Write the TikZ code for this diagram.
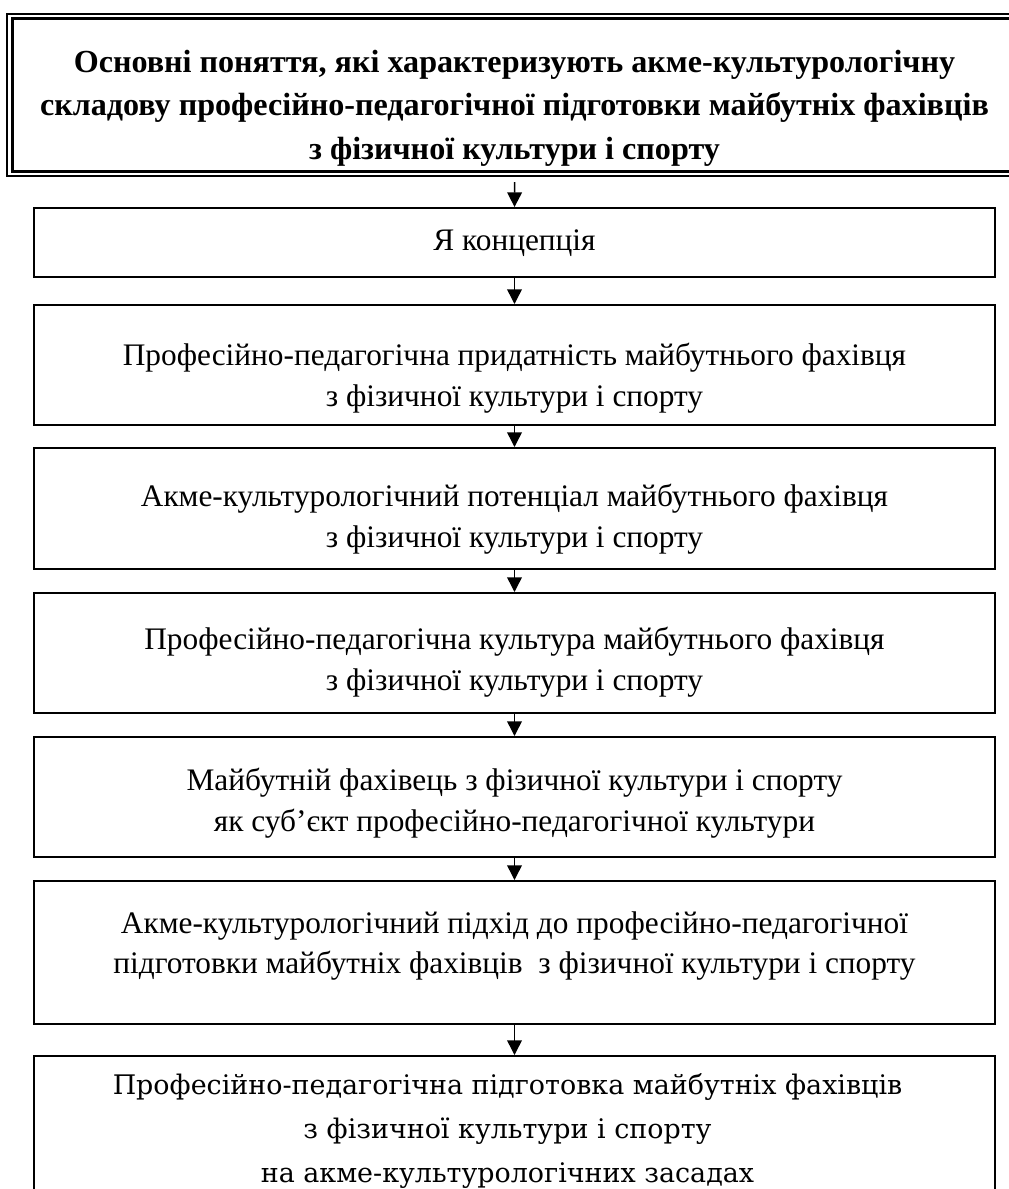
\documentclass[tikz,border=0pt]{standalone}
\usepackage{fontspec}
\setmainfont{Liberation Serif}
\newfontfamily\lastfont{DejaVu Serif}
\usetikzlibrary{arrows.meta}
\begin{document}
\begin{tikzpicture}[x=0.75pt,y=-0.75pt,
  box/.style={draw, line width=1.5pt, rectangle, inner sep=0pt,
    minimum width=720.75pt, anchor=center},
  txt/.style={align=center, inner sep=0pt, font=\fontsize{23.5pt}{30.7pt}\selectfont},
  conn/.style={line width=1.1pt, -{Triangle[width=11pt,length=11pt]}}]
\useasboundingbox (0,0) rectangle (1009,1189);
\clip (0,0) rectangle (1009,1189);
% top double frame
\node[draw, line width=1.3pt, rectangle, inner sep=0pt, minimum width=761.25pt,
  minimum height=121.5pt] (top) at (514.75,95) {};
\draw[line width=2.4pt] ([shift={(6,5.5)}]top.north west) rectangle ([shift={(-6,-5.5)}]top.south east);
\node[align=center, inner sep=0pt, font=\fontsize{24.1pt}{32.6pt}\selectfont\bfseries] (ttop) at (514.5,108)
  {Основні поняття, які характеризують акме-культурологічну\\
   складову професійно-педагогічної підготовки майбутніх фахівців\\
   з фізичної культури і спорту};
% boxes
\node[box, minimum height=51.75pt] (b1) at (514.5,242.5) {};
\node[box, minimum height=90pt] (b2) at (514.5,365) {};
\node[box, minimum height=90.75pt] (b3) at (514.5,508.5) {};
\node[box, minimum height=90pt] (b4) at (514.5,653) {};
\node[box, minimum height=90pt] (b5) at (514.5,797) {};
\node[box, minimum height=107.25pt] (b6) at (514.5,952.5) {};
\node[box, minimum height=130.5pt] (b7) at (514.5,1143) {};
% texts
\node[txt] (t1) at (514.5,243) {Я концепція};
\node[txt] (t2) at (514.5,378) {Професійно-педагогічна придатність майбутнього фахівця\\ з фізичної культури і спорту};
\node[txt] (t3) at (514.5,519) {Акме-культурологічний потенціал майбутнього фахівця\\ з фізичної культури і спорту};
\node[txt] (t4) at (514.5,662) {Професійно-педагогічна культура майбутнього фахівця\\ з фізичної культури і спорту};
\node[txt] (t5) at (514.5,803) {Майбутній фахівець з фізичної культури і спорту\\ як суб’єкт професійно-педагогічної культури};
\node[txt] (t6) at (514.5,946) {Акме-культурологічний підхід до професійно-педагогічної\\ підготовки майбутніх фахівців\ \ з фізичної культури і спорту};
\node[align=center, inner sep=0pt, font=\fontsize{20.2pt}{33pt}\selectfont\lastfont] (t7) at (507.5,1131)
  {Професійно-педагогічна підготовка майбутніх фахівців\\ з фізичної культури і спорту\\ на акме-культурологічних засадах};
% connectors
\draw[conn, shorten <=4pt] (top.south) -- (b1.north);
\draw[conn] (b1.south) -- (b2.north);
\draw[conn] (b2.south) -- (b3.north);
\draw[conn] (b3.south) -- (b4.north);
\draw[conn] (b4.south) -- (b5.north);
\draw[conn] (b5.south) -- (b6.north);
\draw[conn] (b6.south) -- (b7.north);
\end{tikzpicture}
\end{document}
